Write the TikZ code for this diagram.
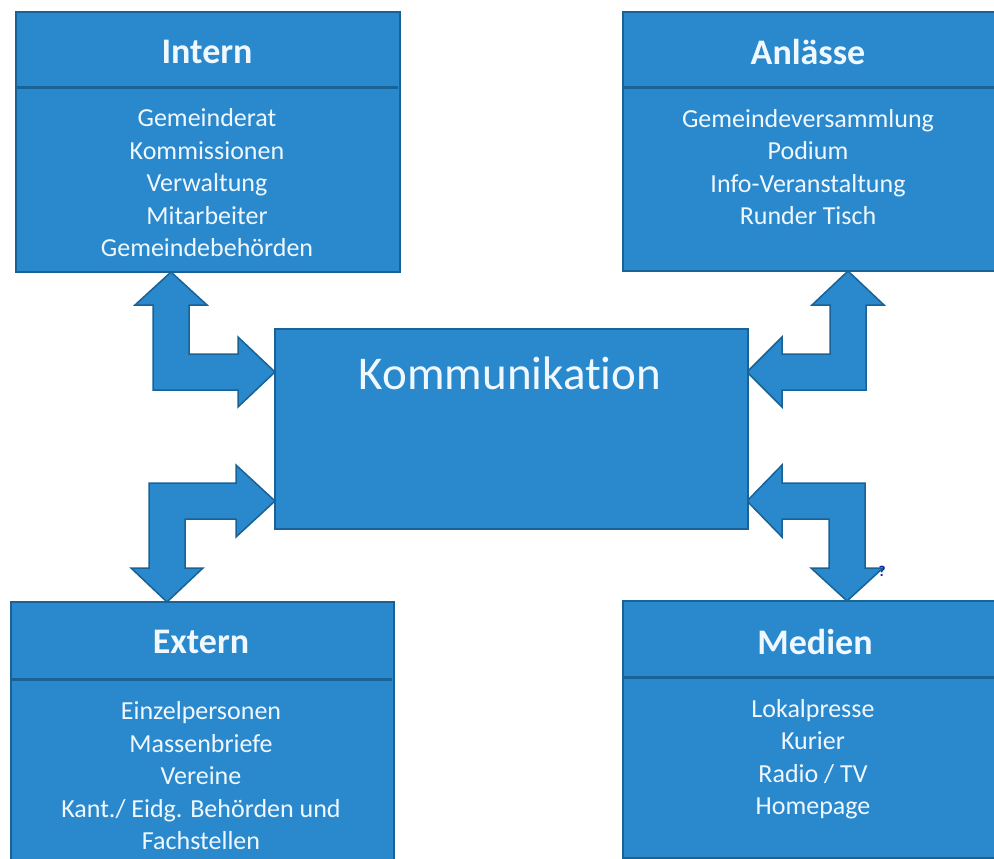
\documentclass[tikz,border=0pt]{standalone}
\usepackage{fontspec}
\setmainfont{Carlito}[Ligatures=NoCommon]
\definecolor{boxblue}{RGB}{42,136,204}
\definecolor{boxedge}{RGB}{24,98,150}
\definecolor{txt}{RGB}{240,248,255}
\definecolor{markblue}{RGB}{10,40,160}
\begin{document}
\begin{tikzpicture}[x=1pt,y=-1pt,
  panel/.style={draw=boxedge, line width=2pt, fill=boxblue, inner sep=0pt, anchor=north west},
  title/.style={text=txt, font=\fontsize{36}{40}\selectfont\bfseries},
  items/.style={text=txt, align=center, font=\fontsize{26}{32.5}\selectfont},
  sep/.style={draw=boxedge, line width=3pt},
  barrow/.style={draw=boxedge, line width=1.5pt, fill=boxblue, line join=miter}]
\useasboundingbox (0,0) rectangle (994,859);
\clip (0,0) rectangle (994,859);

% block arrows
\draw[barrow] (171,272) -- (207,305) -- (189,305) -- (189,354) -- (238,354) -- (238,337)
  -- (275,372) -- (238,407) -- (238,390) -- (153,390) -- (153,305) -- (135,305) -- cycle;
\draw[barrow] (167,602) -- (203,568) -- (185,568) -- (185,519) -- (236,519) -- (236,537)
  -- (275,501) -- (236,465) -- (236,483) -- (149,483) -- (149,568) -- (131,568) -- cycle;
\draw[barrow] (848,271) -- (884,305) -- (866,305) -- (866,390) -- (782,390) -- (782,407)
  -- (747,372) -- (782,337) -- (782,354) -- (830,354) -- (830,305) -- (812,305) -- cycle;
\draw[barrow] (847,601) -- (883,568) -- (865,568) -- (865,483) -- (782,483) -- (782,465)
  -- (747,501) -- (782,537) -- (782,519) -- (829,519) -- (829,568) -- (811,568) -- cycle;

% boxes
\node[panel, minimum width=384pt, minimum height=260pt] (intern) at (15,11) {};
\node[panel, minimum width=390pt, minimum height=259pt] (anlaesse) at (622,11) {};
\node[panel, minimum width=473pt, minimum height=200pt] (komm) at (274,328) {};
\node[panel, minimum width=383pt, minimum height=300pt] (extern) at (10,601) {};
\node[panel, minimum width=390pt, minimum height=257pt] (medien) at (622,600) {};

% separators
\draw[sep] (16,88) -- (398,88);
\draw[sep] (623,88) -- (1000,88);
\draw[sep] (11,679) -- (392,679);
\draw[sep] (623,677) -- (1000,677);

% texts
\node[title] (tintern) at (207,52) {Intern};
\node[items] (iintern) at (207,183) {Gemeinderat\\Kommissionen\\Verwaltung\\Mitarbeiter\\Gemeindebehörden};
\node[title] (tanl) at (808,52) {Anlässe};
\node[items] (ianl) at (808,167) {Gemeindeversammlung\\Podium\\Info-Veranstaltung\\Runder Tisch};
\node[text=txt, font=\fontsize{47}{50}\selectfont] (tkomm) at (510,373) {Kommunikation};
\node[title] (text) at (201,642) {Extern};
\node[items] (iext) at (201,776) {Einzelpersonen\\Massenbriefe\\Vereine\\Kant./ Eidg. Behörden und\\Fachstellen};
\node[title] (tmed) at (815,642) {Medien};
\node[items] (imed) at (813,759) {Lokalpresse\\Kurier\\Radio / TV\\Homepage};
\node[text=markblue, font=\fontsize{15}{15}\selectfont\bfseries, inner sep=0pt] (mark) at (882,571) {?};
\end{tikzpicture}
\end{document}
